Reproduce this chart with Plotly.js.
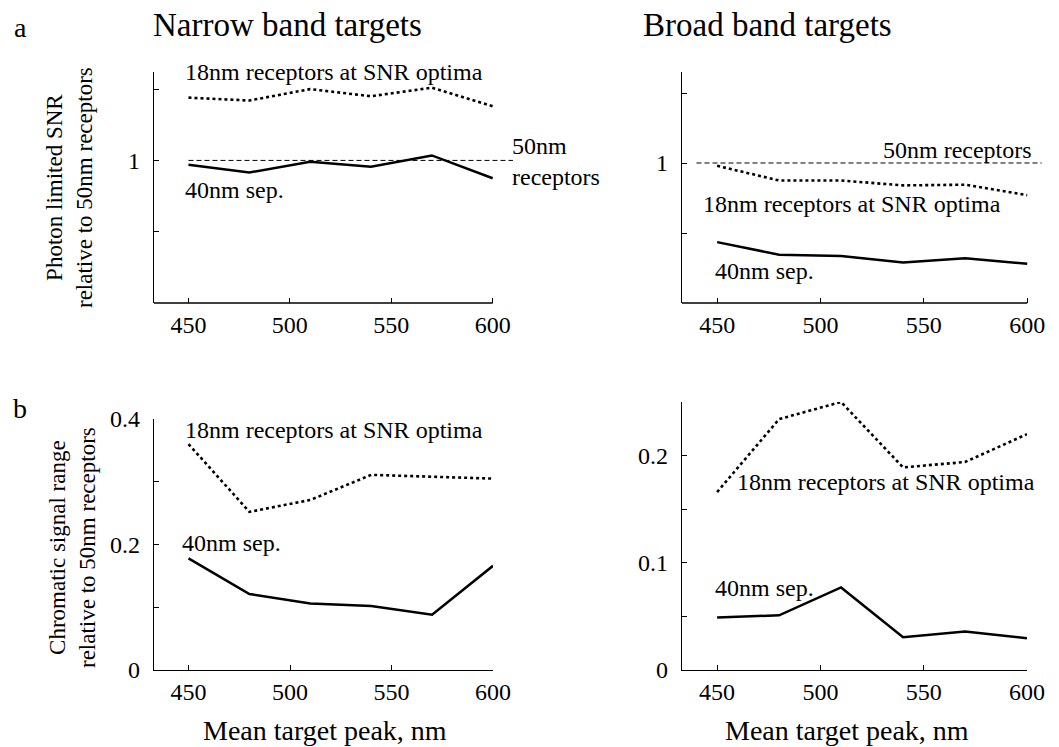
<!DOCTYPE html>
<html>
<head>
<meta charset="utf-8">
<script src="https://cdn.plot.ly/plotly-3.0.1.min.js"></script>
<style>html,body{margin:0;padding:0;background:#fff;}#chart{width:1059px;height:747px;}</style>
</head>
<body>
<div id="chart"></div>
<script>
// ---- data ----
const targetPeak = [450, 480, 510, 540, 570, 600];
// a: photon limited SNR relative to 50nm receptors
const narrowSNR18 = [1.44, 1.42, 1.50, 1.45, 1.51, 1.38];
const narrowSNR40 = [0.97, 0.915, 0.99, 0.955, 1.035, 0.875];
const broadSNR18 = [0.98, 0.875, 0.875, 0.84, 0.845, 0.77];
const broadSNR40 = [0.435, 0.345, 0.335, 0.29, 0.32, 0.28];
// b: chromatic signal range relative to 50nm receptors
const narrowRange18 = [0.36, 0.252, 0.271, 0.311, 0.308, 0.305];
const narrowRange40 = [0.178, 0.121, 0.106, 0.102, 0.088, 0.166];
const broadRange18 = [0.166, 0.234, 0.25, 0.189, 0.194, 0.22];
const broadRange40 = [0.049, 0.051, 0.077, 0.0305, 0.036, 0.0296];
// 50nm reference level
const refLevel = 1;
const narrowRefX = [450, 610];
const broadRefX = [440, 607];
// tick labels
const xTickVals = [450, 500, 550, 600];
const xTickText = ['450', '500', '550', '600'];
const snrTickVals = [0.5, 1, 1.5];
const snrTickText = ['', '1', ''];
const narrowRangeTickVals = [0, 0.1, 0.2, 0.3, 0.4];
const narrowRangeTickText = ['0', '', '0.2', '', '0.4'];
const broadRangeTickVals = [0, 0.05, 0.1, 0.15, 0.2, 0.25];
const broadRangeTickText = ['0', '', '0.1', '', '0.2', ''];

// ---- styling ----
const FONT = '"Liberation Serif", "Times New Roman", serif';
const W = 1059, H = 747;
const px = v => v / W;
const py = v => 1 - v / H;

const dotLine = {color: '#000', width: 2.6, dash: 'dot'};
const solidLine = {color: '#000', width: 2.5};
const refLine = {color: '#000', width: 1, dash: '5px,3px'};

function tr(x, y, xa, ya, line) {
  return {x: x, y: y, xaxis: xa, yaxis: ya, mode: 'lines', line: line, hoverinfo: 'skip', showlegend: false};
}

const traces = [
  tr(narrowRefX, [refLevel, refLevel], 'x', 'y', refLine),
  tr(targetPeak, narrowSNR18, 'x', 'y', dotLine),
  tr(targetPeak, narrowSNR40, 'x', 'y', solidLine),
  tr(broadRefX, [refLevel, refLevel], 'x2', 'y2', refLine),
  tr(targetPeak, broadSNR18, 'x2', 'y2', dotLine),
  tr(targetPeak, broadSNR40, 'x2', 'y2', solidLine),
  tr(targetPeak, narrowRange18, 'x3', 'y3', dotLine),
  tr(targetPeak, narrowRange40, 'x3', 'y3', solidLine),
  tr(targetPeak, broadRange18, 'x4', 'y4', dotLine),
  tr(targetPeak, broadRange40, 'x4', 'y4', solidLine)
];

const tickFont = {family: FONT, size: 24, color: '#000'};
function xAx(domain, range, anchor, showline, standoff) {
  return {domain: domain, range: range, anchor: anchor, showgrid: false, zeroline: false,
    showline: showline, linecolor: '#000', linewidth: 1.3,
    ticks: 'inside', ticklen: 5, tickwidth: 1, tickcolor: '#000',
    tickvals: xTickVals, ticktext: xTickText, tickfont: tickFont, ticklabelstandoff: standoff, fixedrange: true};
}
function yAx(domain, range, anchor, vals, text) {
  return {domain: domain, range: range, anchor: anchor, showgrid: false, zeroline: false,
    showline: true, linecolor: '#000', linewidth: 1.3,
    ticks: 'inside', ticklen: 5, tickwidth: 1, tickcolor: '#000',
    tickvals: vals, ticktext: text, tickfont: tickFont, ticklabelstandoff: 8, fixedrange: true};
}

const leftDom = [px(154), px(517)];
const rightDom = [px(682), px(1052)];
const topDom = [py(303), py(72)];
const botLeftDom = [py(670), py(419)];
const botRightDom = [py(670), py(402)];

function ann(text, x, y, size, xanchor, extra) {
  return Object.assign({text: text, x: px(x), y: py(y), xref: 'paper', yref: 'paper',
    xanchor: xanchor || 'left', yanchor: 'middle', showarrow: false,
    font: {family: FONT, size: size, color: '#000'}}, extra || {});
}

const annotations = [
  ann('a', 20, 27, 28, 'center'),
  ann('b', 20, 408, 28, 'center'),
  ann('Narrow band targets', 287, 25, 33, 'center'),
  ann('Broad band targets', 767, 25, 33, 'center'),
  ann('Photon limited SNR<br>relative to 50nm receptors', 69, 188, 23, 'center', {textangle: -90}),
  ann('Chromatic signal range<br>relative to 50nm receptors', 72, 548, 23, 'center', {textangle: -90}),
  ann('Mean target peak, nm', 325, 730, 28, 'center'),
  ann('Mean target peak, nm', 847, 730, 28, 'center'),
  // panel a, narrow
  ann('18nm receptors at SNR optima', 183, 72, 24, 'left'),
  ann('40nm sep.', 183, 190, 24, 'left'),
  ann('50nm<br>receptors', 510, 161, 24, 'left', {align: 'left'}),
  // panel a, broad
  ann('50nm receptors', 1034, 150, 24, 'right'),
  ann('18nm receptors at SNR optima', 701, 204, 24, 'left'),
  ann('40nm sep.', 713, 271, 24, 'left'),
  // panel b, narrow
  ann('18nm receptors at SNR optima', 183, 430, 24, 'left'),
  ann('40nm sep.', 180, 543, 24, 'left'),
  // panel b, broad
  ann('18nm receptors at SNR optima', 735, 482, 24, 'left'),
  ann('40nm sep.', 713, 588, 24, 'left')
];

const shapes = [
  {type: 'line', xref: 'x', yref: 'y domain', x0: 433, x1: 600, y0: 0, y1: 0, line: {color: '#000', width: 1.3}},
  {type: 'line', xref: 'x2', yref: 'y2 domain', x0: 433, x1: 600, y0: 0, y1: 0, line: {color: '#000', width: 1.3}}
];

const layout = {
  width: W, height: H,
  margin: {l: 0, r: 0, t: 0, b: 0},
  paper_bgcolor: '#fff', plot_bgcolor: 'rgba(0,0,0,0)',
  showlegend: false,
  font: {family: FONT, color: '#000'},
  xaxis: xAx(leftDom, [433, 612], 'y', false, 5),
  yaxis: yAx(topDom, [0, 1.62], 'x', snrTickVals, snrTickText),
  xaxis2: xAx(rightDom, [433, 612], 'y2', false, 5),
  yaxis2: yAx(topDom, [0, 1.65], 'x2', snrTickVals, snrTickText),
  xaxis3: xAx([px(154), px(493)], [433, 600], 'y3', true, 0),
  yaxis3: yAx(botLeftDom, [0, 0.4], 'x3', narrowRangeTickVals, narrowRangeTickText),
  xaxis4: xAx([px(682), px(1027)], [433, 600], 'y4', true, 0),
  yaxis4: yAx(botRightDom, [0, 0.25], 'x4', broadRangeTickVals, broadRangeTickText),
  annotations: annotations,
  shapes: shapes
};

Plotly.newPlot('chart', traces, layout, {displayModeBar: false, staticPlot: true});
</script>
</body>
</html>
